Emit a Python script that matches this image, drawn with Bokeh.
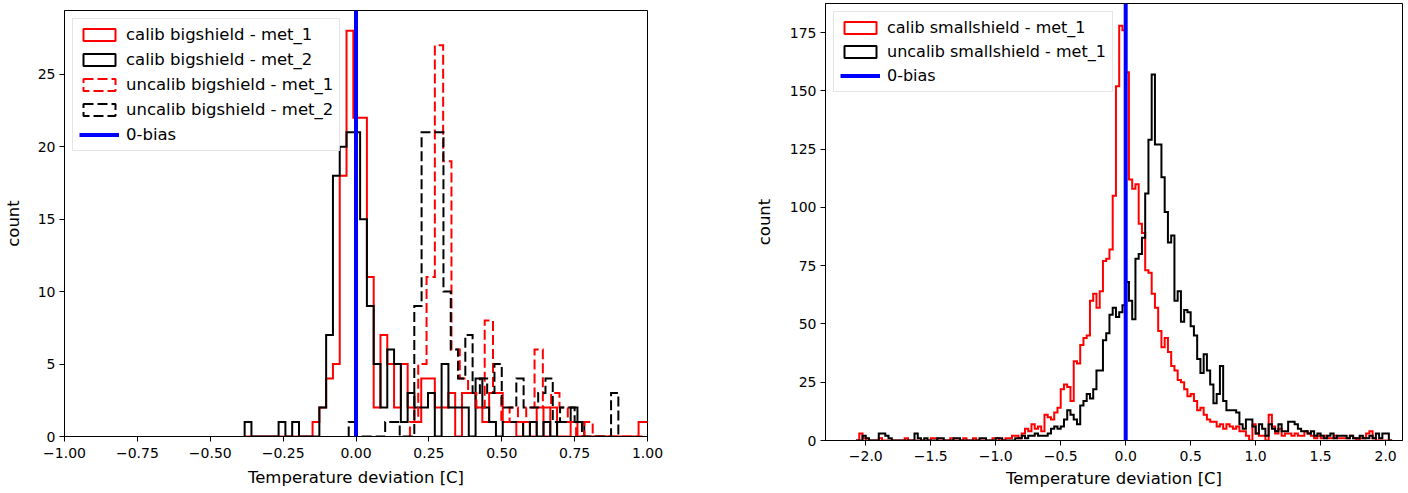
import numpy as np
from bokeh.plotting import figure
from bokeh.models import Span, Legend, LegendItem, FixedTicker, Range1d
from bokeh.layouts import row
from bokeh.embed import file_html
from bokeh.resources import INLINE

# ---------------- data ----------------
# left panel: big shield histograms (counts per bin)
calib_big_start = -0.382
calib_big_width = 0.0233
calib_big_met1 = [0, 0, 0, 0, 0, 0, 0, 0, 0, 0,
                  1, 2, 4, 5, 18, 28, 22, 22, 11, 2,
                  7, 5, 2, 5, 2, 1, 4, 4, 2, 2,
                  3, 0, 3, 3, 2, 1, 3, 3, 1, 1,
                  0, 1, 0, 2, 0, 2, 0, 0, 1, 0,
                  0, 0, 0, 0, 0, 0, 0, 0, 1, 1]
calib_big_met2 = [1, 0, 0, 0, 0, 1, 0, 1, 0, 0,
                  0, 2, 7, 18, 20, 21, 21, 15, 9, 5,
                  2, 6, 5, 1, 3, 2, 2, 3, 0, 5,
                  2, 2, 2, 0, 4, 2, 1, 0, 1, 1,
                  1, 0, 1, 0, 1, 0, 1, 1, 2, 1]
uncalib_big_met1_start = 0.185
uncalib_big_met1_width = 0.0285
uncalib_big_met1 = [1, 5, 11, 27, 19, 6, 4, 3, 2, 8,
                    3, 1, 2, 1, 2, 6, 2, 3, 2, 1,
                    0, 1, 0, 0, 0, 0, 0, 0]
uncalib_big_met2_start = -0.025
uncalib_big_met2_width = 0.025
uncalib_big_met2 = [1, 0, 0, 0, 0, 1, 1, 0, 0, 9,
                    21, 21, 21, 10, 6, 4, 7, 3, 4, 3,
                    5, 2, 2, 4, 2, 2, 3, 4, 1, 2,
                    2, 1, 0, 0, 0, 0, 3]

# right panel: small shield histograms
small_start = -2.075
small_width = 0.025
calib_small_met1 = [0, 3, 1, 0, 0, 0, 0, 1, 0, 0,
                    0, 0, 0, 0, 0, 1, 0, 0, 0, 0,
                    0, 0, 0, 1, 1, 0, 0, 0, 0, 1,
                    0, 0, 0, 1, 0, 0, 1, 0, 0, 0,
                    0, 0, 1, 1, 0, 0, 1, 1, 2, 2,
                    1, 3, 5, 4, 7, 5, 6, 4, 11, 10,
                    9, 12, 14, 22, 24, 23, 17, 34, 33, 41,
                    44, 45, 60, 63, 57, 64, 77, 78, 82, 105,
                    152, 178, 176, 158, 112, 108, 110, 93, 89, 73,
                    72, 63, 57, 47, 40, 44, 38, 32, 30, 26,
                    25, 22, 19, 20, 17, 13, 14, 11, 9, 8,
                    8, 6, 7, 5, 7, 6, 5, 6, 4, 4,
                    2, 0, 7, 3, 2, 2, 0, 11, 6, 3,
                    5, 2, 3, 3, 2, 3, 2, 2, 4, 3,
                    2, 1, 2, 1, 2, 1, 1, 2, 1, 1,
                    1, 1, 2, 1, 0, 1, 1, 3, 4, 1,
                    0, 0, 0, 0, 0]
uncalib_small_met1 = [0, 0, 2, 1, 0, 0, 0, 3, 3, 2,
                      1, 0, 0, 0, 0, 0, 0, 0, 3, 1,
                      0, 1, 0, 0, 0, 1, 1, 0, 0, 0,
                      1, 1, 0, 0, 0, 0, 0, 0, 1, 1,
                      0, 0, 0, 1, 1, 0, 0, 0, 0, 1,
                      1, 2, 1, 2, 2, 3, 2, 2, 2, 3,
                      5, 6, 5, 6, 9, 13, 11, 9, 7, 15,
                      17, 20, 18, 22, 30, 30, 43, 46, 54, 57,
                      53, 55, 58, 68, 60, 52, 78, 80, 87, 106,
                      129, 157, 127, 127, 113, 98, 85, 88, 60, 64,
                      51, 56, 55, 49, 45, 35, 29, 37, 30, 24,
                      16, 20, 32, 17, 13, 13, 13, 12, 7, 5,
                      9, 9, 6, 3, 7, 5, 2, 7, 5, 4,
                      7, 4, 4, 8, 8, 7, 5, 4, 4, 3,
                      4, 2, 3, 2, 1, 2, 3, 1, 2, 2,
                      2, 1, 2, 1, 1, 2, 1, 1, 2, 1,
                      3, 1, 3, 3, 0]

zero_bias = 0.0

left_xticks = [-1.0, -0.75, -0.5, -0.25, 0.0, 0.25, 0.5, 0.75, 1.0]
left_xlabels = ["\u22121.00", "\u22120.75", "\u22120.50", "\u22120.25", "0.00",
                "0.25", "0.50", "0.75", "1.00"]
left_yticks = [0, 5, 10, 15, 20, 25]
right_xticks = [-2.0, -1.5, -1.0, -0.5, 0.0, 0.5, 1.0, 1.5, 2.0]
right_xlabels = ["\u22122.0", "\u22121.5", "\u22121.0", "\u22120.5", "0.0",
                 "0.5", "1.0", "1.5", "2.0"]
right_yticks = [0, 25, 50, 75, 100, 125, 150, 175]

labels_left = ["calib bigshield - met_1", "calib bigshield - met_2",
               "uncalib bigshield - met_1", "uncalib bigshield - met_2", "0-bias"]
labels_right = ["calib smallshield - met_1", "uncalib smallshield - met_1", "0-bias"]

FONT = "DejaVu Sans"
RED = "#ff0000"
BLACK = "#000000"
BLUE = "#0000ff"
DASH = "10 4"


def outline(start, width, counts):
    c = np.asarray(counts, dtype=float)
    edges = start + width * np.arange(len(c) + 1)
    xs = np.repeat(edges, 2)
    ys = np.concatenate([[0.0], np.repeat(c, 2), [0.0]])
    return xs, ys


def style(p, xticks, xlabels, yticks, label_size, tick_standoff):
    p.xgrid.visible = False
    p.ygrid.visible = False
    p.outline_line_color = "black"
    p.outline_line_width = 1
    p.outline_line_alpha = 1
    p.background_fill_color = "white"
    p.border_fill_color = "white"
    p.xaxis.ticker = FixedTicker(ticks=xticks)
    p.xaxis.major_label_overrides = {t: l for t, l in zip(xticks, xlabels)}
    p.yaxis.ticker = FixedTicker(ticks=yticks)
    for ax in (p.xaxis[0], p.yaxis[0]):
        ax.axis_line_color = "black"
        ax.major_tick_in = 0
        ax.major_tick_out = 5
        ax.major_tick_line_color = "black"
        ax.minor_tick_line_color = None
        ax.major_label_text_font = FONT
        ax.major_label_text_font_size = "14px"
        ax.major_label_text_color = "black"
        ax.axis_label_text_font = FONT
        ax.axis_label_text_font_size = label_size
        ax.axis_label_text_font_style = "normal"
        ax.axis_label_text_color = "black"
    p.yaxis.major_label_standoff = 4
    p.xaxis.major_label_standoff = tick_standoff
    p.xaxis.axis_label = "Temperature deviation [C]"
    p.yaxis.axis_label = "count"


def make_legend(items, font_size, spacing):
    lg = Legend(items=items, location="top_left")
    lg.label_text_font = FONT
    lg.label_text_font_size = font_size
    lg.label_text_color = "black"
    lg.glyph_width = 40
    lg.glyph_height = 15
    lg.label_height = 15
    lg.label_standoff = 7
    lg.spacing = spacing
    lg.padding = 6
    lg.margin = 8
    lg.border_line_color = "#cccccc"
    lg.border_line_width = 1
    lg.background_fill_color = "white"
    lg.background_fill_alpha = 0.8
    return lg


def hidden_proxy_quad(p, col, dash):
    # legend-only handle, placed below the visible y range
    y = p.y_range.start - 100.0
    return p.quad(left=[zero_bias], right=[zero_bias + 0.01], top=[y], bottom=[y - 1],
                  fill_color=None, line_color=col, line_width=2, line_dash=dash)


def hidden_proxy_line(p):
    y = p.y_range.start - 100.0
    return p.line(x=[zero_bias, zero_bias], y=[y, y - 1], line_color=BLUE, line_width=4)


# ---------------- left panel ----------------
p1 = figure(width=700, height=493, output_backend="svg", toolbar_location=None,
            x_range=Range1d(-1.0, 1.0), y_range=Range1d(0, 29.4),
            min_border_left=64, min_border_right=53, min_border_top=10,
            min_border_bottom=57)
p1.frame_align = False
style(p1, left_xticks, left_xlabels, left_yticks, "16.5px", 6)
p1.yaxis.axis_label_standoff = 12
p1.xaxis.axis_label_standoff = 7

series_left = [
    (calib_big_start, calib_big_width, calib_big_met1, RED, "solid"),
    (calib_big_start, calib_big_width, calib_big_met2, BLACK, "solid"),
    (uncalib_big_met1_start, uncalib_big_met1_width, uncalib_big_met1, RED, DASH),
    (uncalib_big_met2_start, uncalib_big_met2_width, uncalib_big_met2, BLACK, DASH),
]
items1 = []
for (s, w, c, col, dash), lab in zip(series_left, labels_left[:4]):
    xs, ys = outline(s, w, c)
    p1.line(xs, ys, line_color=col, line_width=2, line_dash=dash, line_join="miter")
    items1.append(LegendItem(label=lab, renderers=[hidden_proxy_quad(p1, col, dash)]))
p1.add_layout(Span(location=zero_bias, dimension="height", line_color=BLUE, line_width=4))
items1.append(LegendItem(label=labels_left[4], renderers=[hidden_proxy_line(p1)]))
p1.add_layout(make_legend(items1, "16.5px", 6))

# ---------------- right panel ----------------
p2 = figure(width=708, height=493, output_backend="svg", toolbar_location=None,
            x_range=Range1d(-2.31, 2.13), y_range=Range1d(0, 187.5),
            min_border_left=125, min_border_right=6, min_border_top=3,
            min_border_bottom=53)
p2.frame_align = False
style(p2, right_xticks, right_xlabels, right_yticks, "16.5px", 5)
p2.yaxis.axis_label_standoff = 13
p2.xaxis.axis_label_standoff = 5

items2 = []
for c, col, lab in [(calib_small_met1, RED, labels_right[0]),
                    (uncalib_small_met1, BLACK, labels_right[1])]:
    xs, ys = outline(small_start, small_width, c)
    p2.line(xs, ys, line_color=col, line_width=2, line_join="miter")
    items2.append(LegendItem(label=lab, renderers=[hidden_proxy_quad(p2, col, "solid")]))
p2.add_layout(Span(location=zero_bias, dimension="height", line_color=BLUE, line_width=4))
items2.append(LegendItem(label=labels_right[2], renderers=[hidden_proxy_line(p2)]))
p2.add_layout(make_legend(items2, "16px", 5))

layout = row(p1, p2)
open("out.html", "w").write(file_html(layout, INLINE))
